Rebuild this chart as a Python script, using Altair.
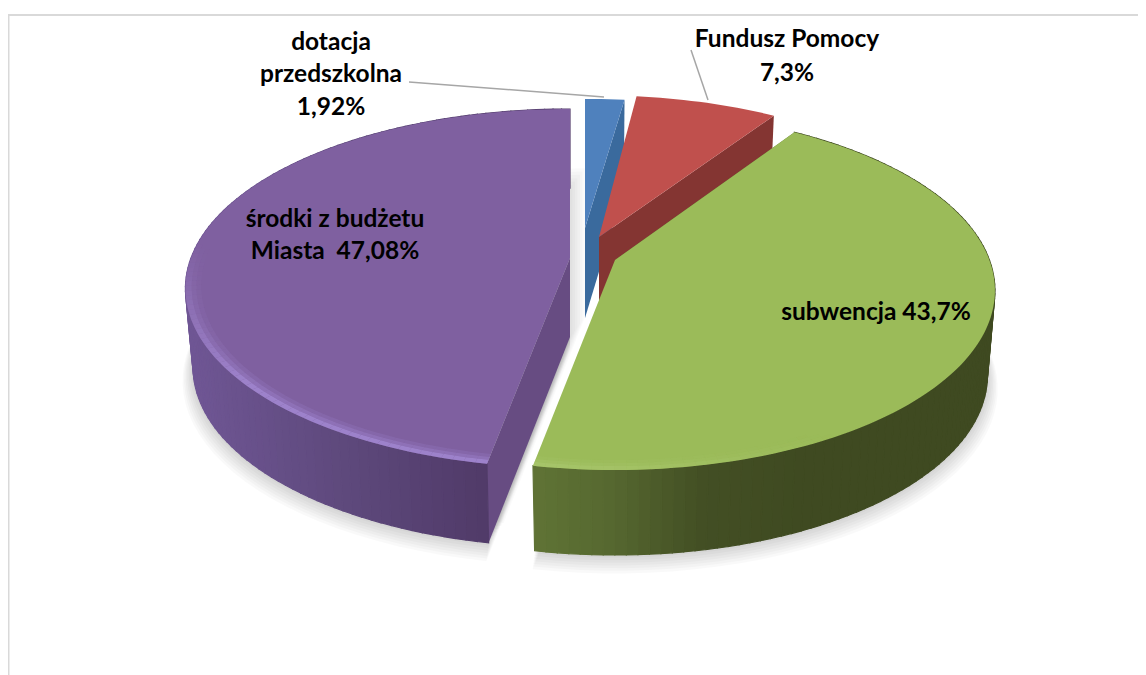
import math
import altair as alt

# ---- values ----
CATEGORIES = ["dotacja przedszkolna", "Fundusz Pomocy", "subwencja", "środki z budżetu Miasta"]
SHARES = [1.92, 7.3, 43.7, 47.08]
TOP_COLORS = ["#4f81bd", "#c0504d", "#9bbb59", "#7f60a0"]
CUT_COLORS = ["#3a6a9d", "#843532", "#5e7234", "#674c82"]
LABEL_LINES = ["dotacja", "przedszkolna", "1,92%", "Fundusz Pomocy", "7,3%",
               "środki z budżetu", "Miasta\u00a0 47,08%", "subwencja 43,7%"]

# ---- page / perspective constants ----
OX, OY = 8, 8            # page margin
A, B, P = 384.0, 174.3, 0.17
BOTTOM_X = 0.98
# per slice: tip x, tip y, x scale, y scale, wall height
LAYOUT = [
    (585, 228, 1.00, 0.866, 90),
    (599, 237, 0.95, 0.95, 80),
    (615, 260, 0.975, 1.00, 85),
    (570, 258, 0.987, 1.00, 79),
]
CUT_AT_END = [True, True, False, False]
LABEL_POS = [(331, 50), (331, 82), (331, 115), (787, 47), (787, 81),
             (335, 227), (335, 259), (876, 320)]


def hex2rgb(h):
    return [int(h[i:i + 2], 16) for i in (1, 3, 5)]


def ramp(stops, x):
    if x <= stops[0][0]:
        return stops[0][1]
    for (x0, c0), (x1, c1) in zip(stops, stops[1:]):
        if x <= x1:
            t = (x - x0) / (x1 - x0)
            a, b = hex2rgb(c0), hex2rgb(c1)
            return "#%02x%02x%02x" % tuple(round(p + (q - p) * t) for p, q in zip(a, b))
    return stops[-1][1]


def top_pt(i, deg, r=1.0):
    x0, y0, sx, sy, h = LAYOUT[i]
    u, v = r * math.sin(math.radians(deg)), r * math.cos(math.radians(deg))
    d = 1 + P * v
    return x0 + sx * A * u / d, y0 - sy * B * v / d


def bot_pt(i, deg, r=1.0, grow=1.0):
    x0, y0, sx, sy, h = LAYOUT[i]
    u, v = r * math.sin(math.radians(deg)), r * math.cos(math.radians(deg))
    d = 1 + P * v
    return x0 + grow * BOTTOM_X * sx * A * u / d, y0 + h - grow * sy * B * v / d


features = []


def poly(points, fill, alpha=1.0, sw=1.2, dx=0, dy=0):
    ring = [[round(px + dx - OX, 2), round(py + dy - OY, 2)] for px, py in points]
    ring.append(ring[0])
    features.append({"type": "Feature",
                     "geometry": {"type": "Polygon", "coordinates": [ring]},
                     "properties": {"fill": fill, "alpha": alpha, "sw": sw}})


def arc(start, end, step=1.5):
    n = max(2, int(abs(end - start) / step) + 1)
    return [start + (end - start) * k / n for k in range(n + 1)]


starts, acc = [], 0.0
for s in SHARES:
    starts.append(acc)
    acc += s * 3.6
ends = [a + s * 3.6 for a, s in zip(starts, SHARES)]

WALL_STOPS = {
    2: [(535, "#5f7335"), (610, "#566830"), (700, "#434f24"), (800, "#3f4a21")],
    3: [(190, "#6f5694"), (330, "#5f4a7e"), (487, "#503a68")],
}
RIM = {2: "#aecb75", 3: "#a288d2"}


def rim_alpha(i, deg):
    if i == 3:
        return max(0.0, min(1.0, (275 - deg) / 45))
    return 0.7 * max(0.0, min(1.0, (deg - 150) / 40))


# soft shadows on the page
for k in range(1, 8):
    for i in (2, 3):
        pts = [bot_pt(i, d, grow=1 + 0.004 * k) for d in arc(starts[i], ends[i], 3)]
        tip = (LAYOUT[i][0], LAYOUT[i][1] + LAYOUT[i][4])
        poly(pts + [tip], "#000000", 0.022, 0, dy=1.8 * k)
for k in range(1, 7):
    i = 3
    pts = [bot_pt(i, d) for d in arc(starts[i], ends[i], 3)]
    tip = (LAYOUT[i][0], LAYOUT[i][1] + LAYOUT[i][4])
    poly(pts + [tip], "#000000", 0.021, 0, dx=2.5 * k, dy=-3.3 * k)

# slices from back to front
for i in range(4):
    x0, y0, sx, sy, h = LAYOUT[i]
    tip_top, tip_bot = (x0, y0), (x0, y0 + h)
    # cut face
    edge = ends[i] if CUT_AT_END[i] else starts[i]
    poly([tip_top, tip_bot, bot_pt(i, edge), top_pt(i, edge)], CUT_COLORS[i], 1.0, 0)
    # outer wall
    if i in WALL_STOPS:
        ang = arc(starts[i], ends[i])
        for a0, a1 in zip(ang, ang[1:]):
            mid = top_pt(i, (a0 + a1) / 2)[0]
            poly([top_pt(i, a0), top_pt(i, a1), bot_pt(i, a1), bot_pt(i, a0)],
                 ramp(WALL_STOPS[i], mid))
    # top face
    poly([tip_top] + [top_pt(i, d) for d in arc(starts[i], ends[i])], TOP_COLORS[i], 1.0, 0)
    # bevel
    if i in RIM:
        ang = arc(starts[i], ends[i])
        for r0, r1, w in ((0.96, 0.972, 0.2), (0.972, 0.984, 0.45), (0.984, 1.0, 0.85)):
            for a0, a1 in zip(ang, ang[1:]):
                al = rim_alpha(i, (a0 + a1) / 2) * w
                if al > 0.01:
                    poly([top_pt(i, a0, r0), top_pt(i, a1, r0), top_pt(i, a1, r1), top_pt(i, a0, r1)],
                         RIM[i], round(al, 3), 0)

line_features = []


def line(points, color, width):
    line_features.append({"type": "Feature",
                          "geometry": {"type": "LineString",
                                       "coordinates": [[x - OX, y - OY] for x, y in points]},
                          "properties": {"stroke": color, "sw": width}})


line([(8.5, 675), (8.5, 15), (1146, 15)], "#d9d9d9", 2)
line([(409, 82), (604, 97)], "#a6a6a6", 1.5)
line([(691, 50), (708, 100)], "#a6a6a6", 1.5)

PROJ = dict(type="identity", scale=1, translate=[0, 0])

shapes = (alt.Chart(alt.Data(values=features))
          .mark_geoshape(filled=True)
          .encode(fill=alt.Fill("properties.fill:N", scale=None),
                  stroke=alt.Stroke("properties.fill:N", scale=None),
                  opacity=alt.Opacity("properties.alpha:Q", scale=None),
                  strokeWidth=alt.StrokeWidth("properties.sw:Q", scale=None))
          .project(**PROJ))

lines = (alt.Chart(alt.Data(values=line_features))
         .mark_geoshape(filled=False)
         .encode(stroke=alt.Stroke("properties.stroke:N", scale=None),
                 strokeWidth=alt.StrokeWidth("properties.sw:Q", scale=None))
         .project(**PROJ))

label_rows = [{"t": t, "x": p[0] - OX, "y": p[1] - OY} for t, p in zip(LABEL_LINES, LABEL_POS)]
labels = (alt.Chart(alt.Data(values=label_rows))
          .mark_text(font="Lato", fontWeight="bold", fontSize=24.5, color="#000000",
                     align="center", baseline="alphabetic")
          .encode(x=alt.X("x:Q", scale=None), y=alt.Y("y:Q", scale=None), text="t:N"))

chart = (alt.layer(shapes, lines, labels)
         .properties(width=1130, height=667, padding=0, background="#ffffff",
                     autosize=alt.AutoSizeParams(type="none"))
         .configure_view(strokeWidth=0, strokeOpacity=0))

chart.save("out.html", embed_options={"renderer": "svg", "actions": False})
